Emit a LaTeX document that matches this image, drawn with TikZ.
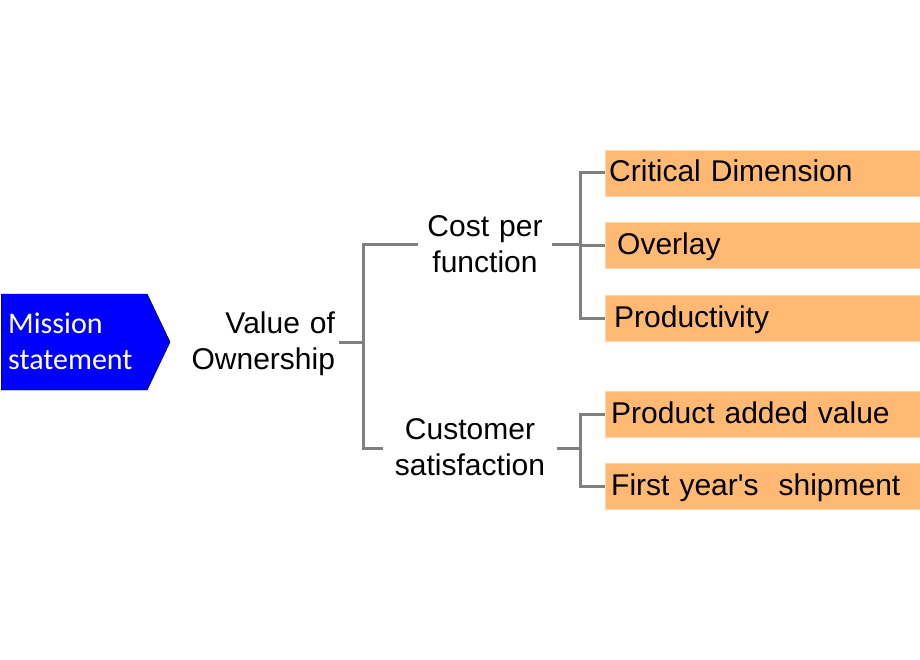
\documentclass[tikz,border=0pt]{standalone}
\usepackage{fontspec}
\setmainfont{Liberation Sans}
\newfontfamily\missionfont{Carlito}
\usetikzlibrary{shapes.symbols}
\definecolor{leafcol}{RGB}{255,185,115}
\definecolor{leafline}{RGB}{255,215,170}
\definecolor{linkgray}{RGB}{128,128,128}
\definecolor{missionblue}{RGB}{0,0,255}

\begin{document}
\begin{tikzpicture}[
    x=1pt,y=-1pt,
    every node/.style={font=\fontsize{30}{36}\selectfont},
    mission/.style={signal,signal to=east,signal pointer angle=129,draw=black,fill=missionblue,text=white,font=\missionfont\fontsize{30}{36}\selectfont,text width=132pt,align=left,inner xsep=7pt,minimum height=96pt,text height=24pt,text depth=42pt},
    mid/.style={align=center,inner xsep=5pt,text height=41pt,text depth=58pt},
    leaf/.style={rectangle,draw=leafline,fill=leafcol,minimum width=315pt,minimum height=46pt,text width=307pt,align=left,inner xsep=4pt,text height=21pt,text depth=3pt},
    link/.style={draw=linkgray,line width=3pt}
]
\useasboundingbox (0,0) rectangle (920,660);

\node[mission,anchor=west] (mission) at (1,342) {Mission\\statement};
\node[mid,text width=150pt,align=right,inner xsep=4pt] (value) at (260,342) {Value of\\Ownership};
\node[mid,text width=124pt] (cost) at (485,245) {Cost per\\function};
\node[mid,text width=164pt] (cust) at (470,448) {Customer\\satisfaction};

\node[leaf,anchor=west] (crit) at (605,173) {Critical Dimension};
\node[leaf,anchor=west] (over) at (605,245.5) {\hspace*{8pt}Overlay};
\node[leaf,anchor=west] (prod) at (605,318) {\hspace*{5pt}Productivity};
\node[leaf,anchor=west] (added) at (605,414) {\hspace*{2pt}Product added value};
\node[leaf,anchor=west] (ship) at (605,486.5) {\hspace*{2pt}First year\textquotesingle s\ \ shipment};

\draw[link] (value.east) -- ++(24,0) coordinate (vhub) |- (cost.west);
\draw[link] (vhub) |- (cust.west);
\draw[link] (cost.east) -- ++(28,0) coordinate (chub) |- (crit.west);
\draw[link] (chub) |- (over.west);
\draw[link] (chub) |- (prod.west);
\draw[link] (cust.east) -- ++(23,0) coordinate (shub) |- (added.west);
\draw[link] (shub) |- (ship.west);
\end{tikzpicture}
\end{document}
